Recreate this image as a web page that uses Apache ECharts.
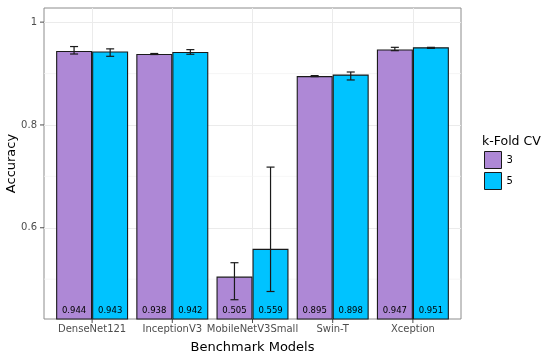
<!DOCTYPE html>
<html>
<head>
<meta charset="utf-8">
<script src="https://cdn.jsdelivr.net/npm/echarts@6/dist/echarts.min.js"></script>
<style>
html,body{margin:0;padding:0;background:#fff;}
#chart{width:550px;height:358px;}
</style>
</head>
<body>
<div id="chart"></div>
<script>
// ---- data ----
var categories = ['DenseNet121', 'InceptionV3', 'MobileNetV3Small', 'Swin-T', 'Xception'];
var foldNames = ['3', '5'];
var acc3 = [0.944, 0.938, 0.505, 0.895, 0.947];
var acc5 = [0.943, 0.942, 0.559, 0.898, 0.951];
var low3 = [0.938, 0.937, 0.460, 0.894, 0.9445];
var high3 = [0.9525, 0.939, 0.532, 0.896, 0.951];
var low5 = [0.9335, 0.9375, 0.476, 0.8875, 0.949];
var high5 = [0.948, 0.9465, 0.718, 0.903, 0.951];
var yTicks = [0.6, 0.8, 1.0];
var yMinor = [0.5, 0.7, 0.9];
var xTicks = [0, 1, 2, 3, 4];

// ---- layout constants ----
var DODGE = 0.225;      // half of dodge width (bar width 0.45)
var CAP = 0.05;         // half width of error bar cap
var LABEL_Y = 0.438;    // value level of the bar text
var TICK_LEN = 4;
var colors = ['#AE88D6', '#00C3FF'];
var FONT = 'DejaVu Sans';

var chart = echarts.init(document.getElementById('chart'));

function barData(vals) {
  return vals.map(function (v, i) { return [i, v]; });
}
function errData(lo, hi) {
  return lo.map(function (l, i) { return [i, l, hi[i]]; });
}

function errRender(offset) {
  return function (params, api) {
    var i = api.value(0);
    var lo = api.coord([i + offset, api.value(1)]);
    var hi = api.coord([i + offset, api.value(2)]);
    var l1 = api.coord([i + offset - CAP, api.value(1)]);
    var r1 = api.coord([i + offset + CAP, api.value(1)]);
    var l2 = api.coord([i + offset - CAP, api.value(2)]);
    var r2 = api.coord([i + offset + CAP, api.value(2)]);
    var st = { stroke: '#1a1a1a', lineWidth: 1.2 };
    return {
      type: 'group',
      children: [
        { type: 'line', shape: { x1: lo[0], y1: lo[1], x2: hi[0], y2: hi[1] }, style: st },
        { type: 'line', shape: { x1: l1[0], y1: l1[1], x2: r1[0], y2: r1[1] }, style: st },
        { type: 'line', shape: { x1: l2[0], y1: l2[1], x2: r2[0], y2: r2[1] }, style: st }
      ]
    };
  };
}

function labelRender(offset) {
  return function (params, api) {
    var i = api.value(0);
    var p = api.coord([i + offset, LABEL_Y]);
    return {
      type: 'text',
      x: p[0], y: p[1],
      style: {
        text: api.value(1).toFixed(3),
        fill: '#000',
        font: '8.5px "DejaVu Sans"',
        align: 'center',
        verticalAlign: 'middle'
      }
    };
  };
}

function minorRender(params, api) {
  var y = api.coord([0, api.value(0)])[1];
  var cs = params.coordSys;
  return {
    type: 'line',
    shape: { x1: cs.x, y1: y, x2: cs.x + cs.width, y2: y },
    style: { stroke: '#f2f2f2', lineWidth: 0.7 }
  };
}

function yTickRender(params, api) {
  var y = api.coord([0, api.value(0)])[1];
  var cs = params.coordSys;
  return {
    type: 'line',
    shape: { x1: cs.x - TICK_LEN, y1: y, x2: cs.x, y2: y },
    style: { stroke: '#4d4d4d', lineWidth: 1 }
  };
}

function xTickRender(params, api) {
  var x = api.coord([api.value(0), 0.6])[0];
  var cs = params.coordSys;
  var yb = cs.y + cs.height;
  return {
    type: 'line',
    shape: { x1: x, y1: yb, x2: x, y2: yb + TICK_LEN },
    style: { stroke: '#4d4d4d', lineWidth: 1 }
  };
}

var option = {
  animation: false,
  backgroundColor: '#fff',
  textStyle: { fontFamily: FONT },
  title: {
    text: 'k-Fold CV',
    left: 482, top: 135,
    padding: 0,
    textStyle: { fontFamily: FONT, fontSize: 12.5, fontWeight: 'normal', color: '#000' }
  },
  legend: {
    data: foldNames,
    orient: 'vertical',
    left: 484, top: 151,
    padding: 0,
    itemGap: 3,
    itemWidth: 17, itemHeight: 17,
    icon: 'rect',
    itemStyle: { borderColor: '#1a1a1a', borderWidth: 1 },
    textStyle: { fontFamily: FONT, fontSize: 10, color: '#000' }
  },
  grid: {
    left: 44, right: 89, top: 8, bottom: 39,
    containLabel: false,
    outerBoundsMode: 'none',
    show: true, borderColor: '#8c8c8c', borderWidth: 1, backgroundColor: 'transparent'
  },
  xAxis: [{
    type: 'value', min: -0.6, max: 4.6,
    name: 'Benchmark Models', nameLocation: 'middle', nameGap: 22,
    nameMoveOverlap: false,
    nameTextStyle: { fontFamily: FONT, fontSize: 13, color: '#000' },
    axisLine: { show: false },
    axisTick: { show: false, customValues: xTicks },
    axisLabel: {
      customValues: xTicks, margin: 5,
      fontFamily: FONT, fontSize: 10, color: '#4d4d4d',
      formatter: function (v) { return categories[Math.round(v)]; }
    },
    splitLine: { show: true, lineStyle: { color: '#ebebeb', width: 1 } }
  }],
  yAxis: [{
    type: 'value', min: 0.4225, max: 1.0275,
    name: 'Accuracy', nameLocation: 'middle', nameGap: 26,
    nameMoveOverlap: false,
    nameTextStyle: { fontFamily: FONT, fontSize: 13, color: '#000' },
    axisLine: { show: false },
    axisTick: { show: false, customValues: yTicks },
    axisLabel: {
      customValues: yTicks, margin: 7,
      fontFamily: FONT, fontSize: 10, color: '#4d4d4d',
      formatter: function (v) { return String(Math.round(v * 10) / 10); }
    },
    splitLine: { show: true, lineStyle: { color: '#ebebeb', width: 1 } }
  }],
  series: [
    {
      type: 'custom', renderItem: minorRender, data: yMinor.map(function (v) { return [v]; }),
      z: 0, silent: true, encode: { y: 0 }
    },
    {
      type: 'custom', renderItem: yTickRender, data: yTicks.map(function (v) { return [v]; }),
      z: 1, silent: true, clip: false, encode: { y: 0 }
    },
    {
      type: 'custom', renderItem: xTickRender, data: xTicks.map(function (v) { return [v]; }),
      z: 1, silent: true, clip: false, encode: { x: 0 }
    },
    {
      name: foldNames[0], type: 'bar', data: barData(acc3),
      barWidth: 36, barGap: '0%', z: 2,
      itemStyle: { color: colors[0], borderColor: '#1a1a1a', borderWidth: 1.1 }
    },
    {
      name: foldNames[1], type: 'bar', data: barData(acc5),
      barWidth: 36, barGap: '0%', z: 2,
      itemStyle: { color: colors[1], borderColor: '#1a1a1a', borderWidth: 1.1 }
    },
    {
      type: 'custom', renderItem: errRender(-DODGE), data: errData(low3, high3), z: 5,
      encode: { x: 0, y: [1, 2] }
    },
    {
      type: 'custom', renderItem: errRender(DODGE), data: errData(low5, high5), z: 5,
      encode: { x: 0, y: [1, 2] }
    },
    {
      type: 'custom', renderItem: labelRender(-DODGE), data: barData(acc3), z: 6,
      encode: { x: 0, y: 1 }
    },
    {
      type: 'custom', renderItem: labelRender(DODGE), data: barData(acc5), z: 6,
      encode: { x: 0, y: 1 }
    }
  ]
};
chart.setOption(option);
</script>
</body>
</html>
